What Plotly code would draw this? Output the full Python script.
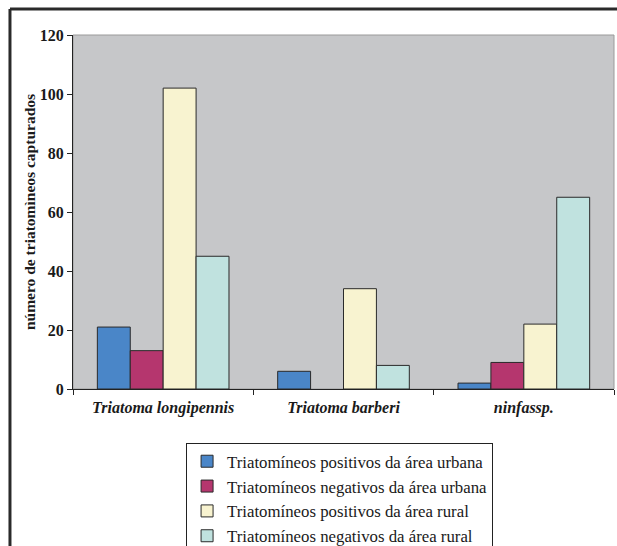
import plotly.graph_objects as go

categories = ["<i>Triatoma longipennis</i>", "<i>Triatoma barberi</i>", "<i>ninfassp.</i>"]
series_names = [
    "Triatomíneos positivos da área urbana",
    "Triatomíneos negativos da área urbana",
    "Triatomíneos positivos da área rural",
    "Triatomíneos negativos da área rural",
]
pos_urbana = [21, 6, 2]
neg_urbana = [13, 0, 9]
pos_rural = [102, 34, 22]
neg_rural = [45, 8, 65]
y_ticks = [0, 20, 40, 60, 80, 100, 120]

colors = ["#4a86c8", "#b5366e", "#f8f3d0", "#c0e2df"]
series = [pos_urbana, neg_urbana, pos_rural, neg_rural]

fig = go.Figure()
for name, vals, c in zip(series_names, series, colors):
    fig.add_trace(go.Bar(
        x=categories, y=vals, name=name,
        marker=dict(color=c, line=dict(color="#2a2a2a",
                                       width=[0 if v == 0 else 1 for v in vals])),
    ))

FONT = "Liberation Serif"
fig.update_layout(
    width=617, height=546,
    margin=dict(l=73, r=3, t=35, b=157, autoexpand=False),
    paper_bgcolor="white",
    plot_bgcolor="#c6c7c9",
    barmode="group",
    bargap=0.27,
    bargroupgap=0,
    font=dict(family=FONT, color="#1a1a1a"),
    showlegend=True,
    legend=dict(
        x=0.209, y=-0.152, xanchor="left", yanchor="top",
        bordercolor="#222", borderwidth=1, bgcolor="white",
        font=dict(family=FONT, size=16.8, color="#1a1a1a"),
        tracegroupgap=0, itemwidth=30,
    ),
)
fig.update_xaxes(
    type="category", tickson="boundaries",
    ticks="outside", ticklen=5, tickcolor="#222",
    showline=True, linecolor="#222", linewidth=1,
    showgrid=False, automargin=False, ticklabelstandoff=4,
    tickfont=dict(family=FONT, size=16, color="#1a1a1a", weight="bold"),
)
fig.update_yaxes(
    range=[0, 120], tickvals=y_ticks,
    ticks="outside", ticklen=5, tickcolor="#222",
    showline=True, linecolor="#222", linewidth=1,
    showgrid=False, zeroline=False, automargin=False,
    tickfont=dict(family=FONT, size=16, color="#1a1a1a", weight="bold"),
    title=dict(text="número de triatomìneos capturados",
               font=dict(family=FONT, size=15.5, color="#1a1a1a", weight="bold"),
               standoff=0),
)

# plot area right/top border (light gray)
fig.add_shape(type="rect", xref="paper", yref="paper", x0=0, x1=1, y0=0, y1=1,
              line=dict(color="#9a9a9a", width=1), layer="below")
# outer frame (left and top)
fig.add_shape(type="line", xref="paper", yref="paper",
              x0=-0.1165, x1=-0.1165, y0=-0.5, y1=1.0734,
              line=dict(color="#2a2a2a", width=3))
fig.add_shape(type="line", xref="paper", yref="paper",
              x0=-0.1165, x1=1.1, y0=1.0734, y1=1.0734,
              line=dict(color="#2a2a2a", width=3))

fig.write_html(
    "out.html",
    config={"displayModeBar": False},
    post_script="document.body.style.margin='0';document.body.style.overflow='hidden';",
)
